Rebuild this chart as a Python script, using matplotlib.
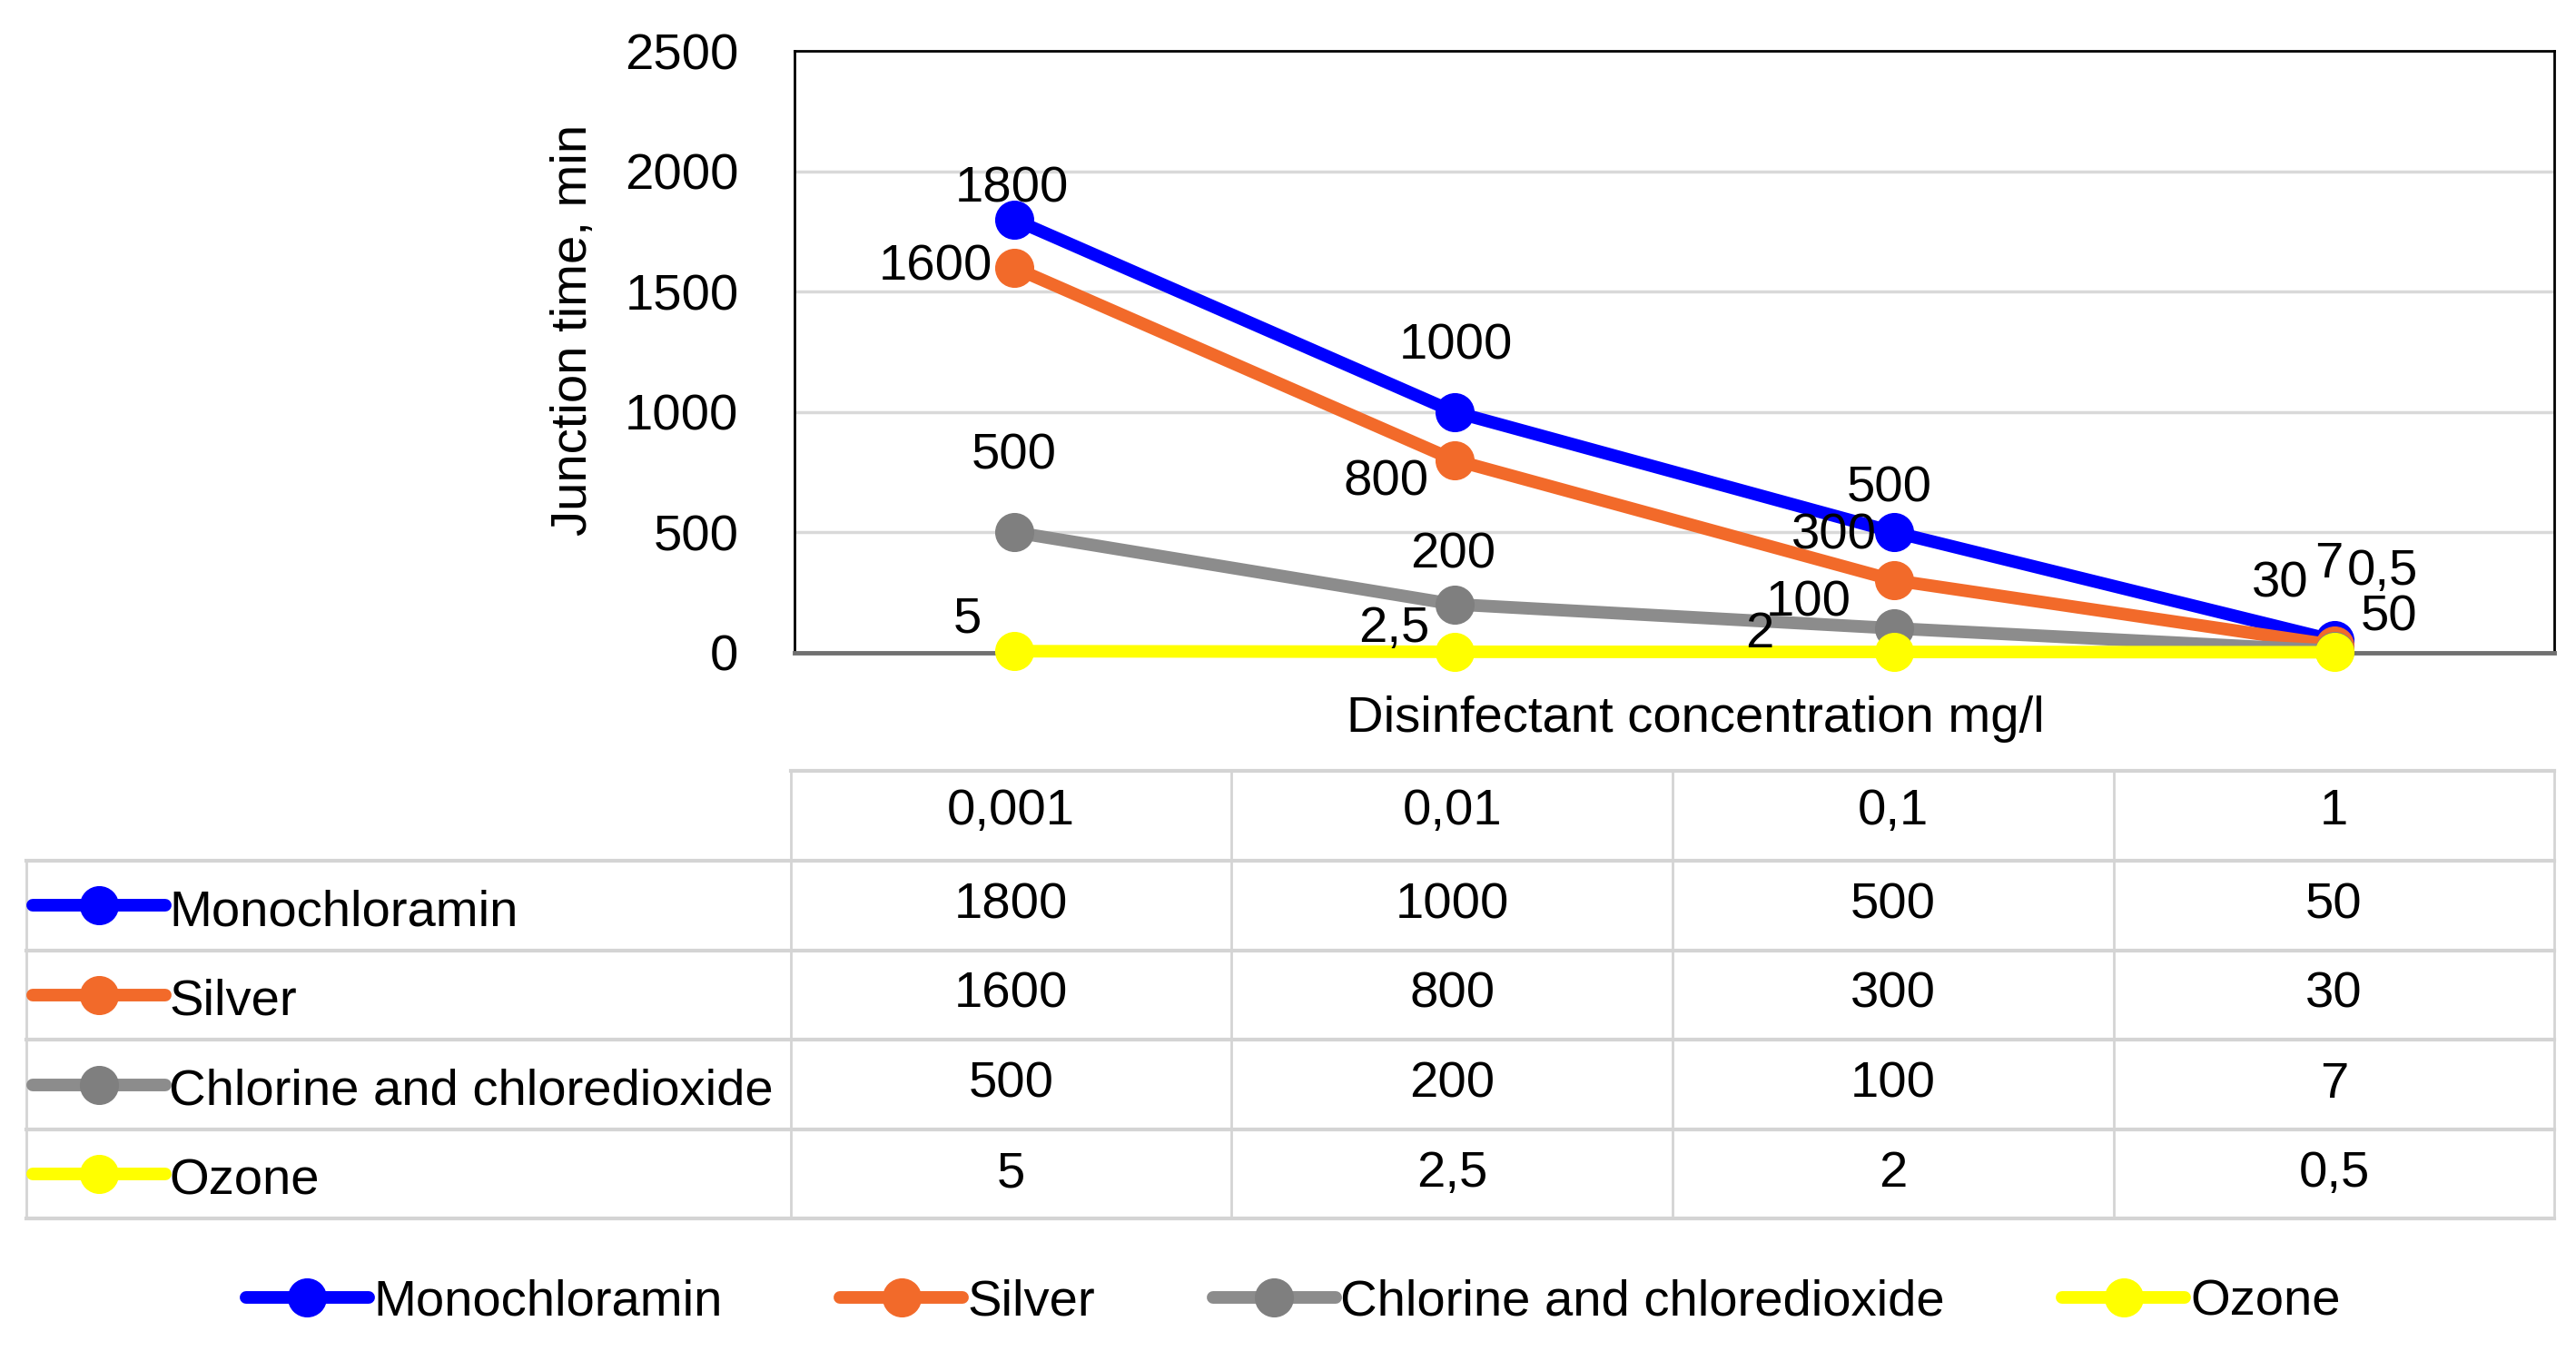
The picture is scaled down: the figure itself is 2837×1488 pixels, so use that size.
# -*- coding: utf-8 -*-
import matplotlib
matplotlib.use("Agg")
import matplotlib.pyplot as plt
from matplotlib.lines import Line2D

plt.rcParams['font.family'] = ['Liberation Sans', 'DejaVu Sans']

# concentrations (mg/l) shown as categories
concentrations = ["0,001", "0,01", "0,1", "1"]
series_names = ["Monochloramin", "Silver", "Chlorine and chloredioxide", "Ozone"]
monochloramin = [1800, 1000, 500, 50]
silver = [1600, 800, 300, 30]
chlorine = [500, 200, 100, 7]
ozone = [5, 2.5, 2, 0.5]
y_ticks = [0, 500, 1000, 1500, 2000, 2500]

colors = ["#0000FF", "#F26A2A", "#8C8C8C", "#FFFF00"]
marker_colors = ["#0000FF", "#F26A2A", "#7F7F7F", "#FFFF00"]

# label offsets in points for each value label (dx, dy)
offsets = [
    [(-2, 24), (1, 52), (-4, 34), (43, 18)],
    [(-62, 0), (-54, -18), (-48, 35), (-43, 48)],
    [(0, 60), (-1, 39), (-68, 20), (-4, 68)],
    [(-37, 25), (-48, 18), (-107, 14), (38, 64)],
]

FS = 40.5


def fmt(v):
    return f"{v:g}".replace('.', ',')


def main():
    fig = plt.figure(figsize=(28.37, 14.88), dpi=100)
    ax = fig.add_axes([0.3083, 0.5171, 0.6833, 0.445])

    data = [monochloramin, silver, chlorine, ozone]
    xs = [i + 0.5 for i in range(len(concentrations))]
    handles = []
    for k, vals in enumerate(data):
        ln, = ax.plot(xs, vals, color=colors[k], lw=10, marker='o', ms=30,
                      mfc=marker_colors[k], mec=marker_colors[k], clip_on=False,
                      zorder=3 + k, solid_capstyle='round', label=series_names[k])
        handles.append(ln)
        for i, v in enumerate(vals):
            ax.annotate(fmt(v), (xs[i], v), xytext=offsets[k][i], textcoords='offset points',
                        ha='center', va='center', fontsize=FS, zorder=10, annotation_clip=False)

    ax.set_xlim(0, 4)
    ax.set_ylim(0, 2500)
    ax.set_yticks(y_ticks)
    ax.set_xticks([])
    ax.tick_params(axis='y', length=0, pad=44, labelsize=FS)
    ax.grid(axis='y', color='#D9D9D9', lw=2.5)
    ax.set_axisbelow(True)
    for s in ['top', 'right', 'left']:
        ax.spines[s].set_color('black')
        ax.spines[s].set_linewidth(2)
    ax.spines['bottom'].set_color('#707070')
    ax.spines['bottom'].set_linewidth(3.5)

    ax.set_ylabel('Junction time, min', fontsize=FS)
    ax.yaxis.set_label_coords(-0.112, 0.536)
    ax.set_xlabel('Disinfectant concentration mg/l', fontsize=FS)
    ax.xaxis.set_label_coords(0.512, -0.072)

    # data table under the chart
    tab = fig.add_axes([0.01026, 0.0978, 0.9814, 0.3313])
    tab.set_xlim(-1.733, 4)
    tab.set_ylim(5, 0)
    tab.axis('off')
    grid_c = '#D4D4D4'
    # horizontal lines
    tab.plot([0, 4], [0, 0], color=grid_c, lw=3, clip_on=False)
    for r in range(1, 6):
        tab.plot([-1.733, 4], [r, r], color=grid_c, lw=3, clip_on=False)
    # vertical lines
    tab.plot([-1.733, -1.733], [1, 5], color=grid_c, lw=2, clip_on=False)
    for c in range(0, 5):
        tab.plot([c, c], [0, 5], color=grid_c, lw=2, clip_on=False)

    for i, lab in enumerate(concentrations):
        tab.text(i + 0.5, 0.45, lab, ha='center', va='center', fontsize=FS)
    for k, vals in enumerate(data):
        y = k + 1.5
        tab.add_line(Line2D([-1.719, -1.418], [y, y], color=colors[k], lw=10,
                            solid_capstyle='round'))
        tab.plot([-1.568], [y], marker='o', ms=30, color=marker_colors[k], ls='none')
        tab.text(-1.41, y + 0.08, series_names[k], ha='left', va='center', fontsize=FS)
        for i, v in enumerate(vals):
            tab.text(i + 0.5, y, fmt(v), ha='center', va='center', fontsize=FS)

    fig.legend(handles=handles, loc='center', bbox_to_anchor=(0.502, 0.036), ncol=4,
               frameon=False, fontsize=FS, handlelength=2.4, handletextpad=0.1,
               columnspacing=2.3)

    fig.savefig('out.png', dpi=100)


if __name__ == '__main__':
    main()
